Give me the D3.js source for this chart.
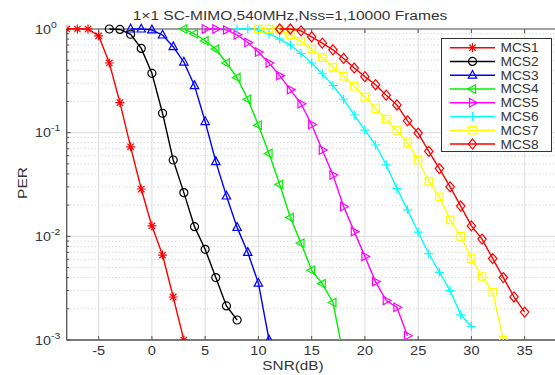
<!DOCTYPE html>
<html>
<head>
<meta charset="utf-8">
<script src="https://cdn.jsdelivr.net/npm/d3@7"></script>
<style>
  body { margin: 0; background: #fff; }
  svg text { font-family: "Liberation Sans", Arial, sans-serif; fill: #333; }
</style>
</head>
<body>
<svg id="chart" width="555" height="375"></svg>
<script>
// --- data ---
const names = ["MCS1", "MCS2", "MCS3", "MCS4", "MCS5", "MCS6", "MCS7", "MCS8"];
const colors = ["#ff0000", "#000000", "#0000ff", "#00f000", "#ff00ff", "#00ffff", "#ffff00", "#ff0000"];
const markers = ["star", "circle", "triUp", "triLeft", "triRight", "plus", "square", "diamond"];

const snr1 = [-8, -7, -6, -5, -4, -3, -2, -1, 0, 1, 2, 3];
const per1 = [1, 1, 1, 0.86, 0.47, 0.195, 0.073, 0.0286, 0.0126, 0.0066, 0.0026, 0.001];
const snr2 = [-4, -3, -2, -1, 0, 1, 2, 3, 4, 5, 6, 7, 8];
const per2 = [1, 0.99, 0.89, 0.65, 0.374, 0.154, 0.0545, 0.0264, 0.0124, 0.0075, 0.004, 0.00213, 0.00156];
const snr3 = [-2, -1, 0, 1, 2, 3, 4, 5, 6, 7, 8, 9, 10, 11];
const per3 = [1, 1, 0.98, 0.875, 0.675, 0.48, 0.284, 0.128, 0.0525, 0.0245, 0.0122, 0.007, 0.00353, 0.001];
const snr4 = [3, 4, 5, 6, 7, 8, 9, 10, 11, 12, 13, 14, 15, 16, 17, 18];
const per4 = [1, 0.9, 0.77, 0.64, 0.47, 0.34, 0.21, 0.118, 0.063, 0.0316, 0.0152, 0.0086, 0.0047, 0.0035, 0.0023, 0.0007];
const snr5 = [5, 6, 7, 8, 9, 10, 11, 12, 13, 14, 15, 16, 17, 18, 19, 20, 21, 22, 23, 24];
const per5 = [1, 1, 0.98, 0.88, 0.74, 0.6, 0.47, 0.355, 0.26, 0.19, 0.12, 0.068, 0.039, 0.0194, 0.0111, 0.0064, 0.00366, 0.0024, 0.00207, 0.0011];
const snr6 = [8, 9, 10, 11, 12, 13, 14, 15, 16, 17, 18, 19, 20, 21, 22, 23, 24, 25, 26, 27, 28, 29, 30];
const per6 = [1, 1, 0.98, 0.9, 0.8, 0.7, 0.58, 0.47, 0.37, 0.285, 0.21, 0.148, 0.106, 0.076, 0.049, 0.029, 0.018, 0.011, 0.0068, 0.0045, 0.003, 0.00175, 0.00135];
const snr7 = [10, 11, 12, 13, 14, 15, 16, 17, 18, 19, 20, 21, 22, 23, 24, 25, 26, 27, 28, 29, 30, 31, 32, 33];
const per7 = [1, 1, 0.98, 0.88, 0.76, 0.64, 0.53, 0.43, 0.35, 0.28, 0.22, 0.17, 0.135, 0.105, 0.08, 0.0545, 0.034, 0.024, 0.0144, 0.01, 0.0061, 0.0041, 0.0029, 0.001];
const snr8 = [12, 13, 14, 15, 16, 17, 18, 19, 20, 21, 22, 23, 24, 25, 26, 27, 28, 29, 30, 31, 32, 33, 34, 35];
const per8 = [1, 1, 0.96, 0.84, 0.73, 0.63, 0.52, 0.42, 0.347, 0.29, 0.23, 0.185, 0.13, 0.099, 0.066, 0.045, 0.03, 0.0196, 0.0126, 0.0094, 0.0061, 0.004, 0.0026, 0.00186];

const xTicks = [-5, 0, 5, 10, 15, 20, 25, 30, 35];
const yTicks = [1, 0.1, 0.01, 0.001];
const yTickExp = ["0", "-1", "-2", "-3"];

const snrs = [snr1, snr2, snr3, snr4, snr5, snr6, snr7, snr8];
const pers = [per1, per2, per3, per4, per5, per6, per7, per8];

// --- layout ---
const plotLeft = 66.7, plotTop = 29, plotBottom = 340;
const x = d3.scaleLinear().domain([-8, 40]).range([plotLeft, plotLeft + 48 * 10.65]);
const y = d3.scaleLog().domain([0.001, 1]).range([plotBottom, plotTop]);
const plotRight = x(40);

const svg = d3.select("#chart");

svg.append("defs").append("clipPath").attr("id", "plotclip")
  .append("rect").attr("x", plotLeft).attr("y", plotTop - 6)
  .attr("width", plotRight - plotLeft).attr("height", plotBottom - plotTop + 6);

// minor horizontal grid (dotted)
const minor = [];
[0.001, 0.01, 0.1].forEach(d => { for (let m = 2; m <= 9; m++) minor.push(d * m); });
svg.append("g").selectAll("line").data(minor).join("line")
  .attr("x1", plotLeft).attr("x2", plotRight)
  .attr("y1", d => y(d)).attr("y2", d => y(d))
  .attr("stroke", "#c8c8c8").attr("stroke-width", 1).attr("stroke-dasharray", "1,2.5");

// major grid
const grid = svg.append("g").attr("stroke", "#dcdcdc").attr("stroke-width", 1);
grid.selectAll(".gx").data(xTicks).join("line")
  .attr("x1", d => x(d)).attr("x2", d => x(d)).attr("y1", plotTop).attr("y2", plotBottom);
grid.selectAll(".gy").data(yTicks).join("line")
  .attr("x1", plotLeft).attr("x2", plotRight).attr("y1", d => y(d)).attr("y2", d => y(d));

// axes box + ticks
const axisColor = "#555";
const ax = svg.append("g").attr("stroke", axisColor).attr("stroke-width", 1);
ax.append("line").attr("x1", plotLeft).attr("x2", plotRight).attr("y1", plotBottom).attr("y2", plotBottom).attr("stroke-width", 1.3);
ax.append("line").attr("x1", plotLeft).attr("x2", plotLeft).attr("y1", plotTop).attr("y2", plotBottom).attr("stroke-width", 1.3);
ax.append("line").attr("x1", plotLeft).attr("x2", plotRight).attr("y1", plotTop).attr("y2", plotTop);
ax.selectAll(".tb").data(xTicks).join("line")
  .attr("x1", d => x(d)).attr("x2", d => x(d)).attr("y1", plotBottom).attr("y2", plotBottom - 4);
ax.selectAll(".tt").data(xTicks).join("line")
  .attr("x1", d => x(d)).attr("x2", d => x(d)).attr("y1", plotTop).attr("y2", plotTop + 4);
ax.selectAll(".ty").data(yTicks).join("line")
  .attr("x1", plotLeft).attr("x2", plotLeft + 4).attr("y1", d => y(d)).attr("y2", d => y(d));
ax.selectAll(".tm").data(minor).join("line")
  .attr("x1", plotLeft).attr("x2", plotLeft + 2.5).attr("y1", d => y(d)).attr("y2", d => y(d));

// tick labels
svg.append("g").selectAll("text").data(xTicks).join("text")
  .attr("transform", d => `translate(${x(d)},354.5) scale(1.12,1)`)
  .attr("text-anchor", "middle").attr("font-size", 13).text(d => d);

const yl = svg.append("g").selectAll("text").data(yTicks).join("text")
  .attr("transform", d => `translate(35,${y(d) + 4.5}) scale(1.1,1)`)
  .attr("font-size", 13);
yl.append("tspan").text("10");
yl.append("tspan").attr("dy", -6).attr("font-size", 9.5).text((d, i) => yTickExp[i]);

// title and axis labels
svg.append("text").attr("transform", "translate(290,20) scale(1.15,1)")
  .attr("text-anchor", "middle").attr("font-size", 13.5).attr("fill", "#222")
  .text("1×1 SC-MIMO,540MHz,Nss=1,10000 Frames");
svg.append("text").attr("transform", "translate(293,370) scale(1.18,1)")
  .attr("text-anchor", "middle").attr("font-size", 13).text("SNR(dB)");
svg.append("text").attr("transform", "translate(27,183) rotate(-90) scale(1.15,1)")
  .attr("text-anchor", "middle").attr("font-size", 13.5).text("PER");

// marker shapes
function markerPath(type) {
  switch (type) {
    case "star": return "M-4.5,0H4.5M0,-4.5V4.5M-3.2,-3.2L3.2,3.2M-3.2,3.2L3.2,-3.2";
    case "circle": return "M4,0A4,4 0 1,1 -4,0A4,4 0 1,1 4,0Z";
    case "triUp": return "M0,-4.8L4.2,3L-4.2,3Z";
    case "triLeft": return "M-4.8,0L3,-4.2L3,4.2Z";
    case "triRight": return "M4.8,0L-3,-4.2L-3,4.2Z";
    case "plus": return "M-4.5,0H4.5M0,-4.5V4.5";
    case "square": return "M-3.7,-3.7H3.7V3.7H-3.7Z";
    case "diamond": return "M0,-5L4.2,0L0,5L-4.2,0Z";
  }
}

const plot = svg.append("g").attr("clip-path", "url(#plotclip)");
const line = d3.line().x(d => x(d[0])).y(d => y(d[1]));

names.forEach((name, i) => {
  const pts = snrs[i].map((s, j) => [s, pers[i][j]]);
  const g = plot.append("g");
  g.append("path").datum(pts).attr("d", line)
    .attr("fill", "none").attr("stroke", colors[i]).attr("stroke-width", 1.4);
  g.selectAll("path.m").data(pts.filter(p => p[1] >= 0.001)).join("path").attr("class", "m")
    .attr("transform", d => `translate(${x(d[0])},${y(d[1])})`)
    .attr("d", markerPath(markers[i]))
    .attr("fill", "none").attr("stroke", colors[i]).attr("stroke-width", 1.2);
});

// legend
const lg = svg.append("g");
lg.append("rect").attr("x", 441.5).attr("y", 38.5).attr("width", 110).attr("height", 113)
  .attr("fill", "#fff").attr("stroke", "#333").attr("stroke-width", 1);
names.forEach((name, i) => {
  const yy = 47.7 + i * 13.76;
  lg.append("line").attr("x1", 450).attr("x2", 495).attr("y1", yy).attr("y2", yy)
    .attr("stroke", colors[i]).attr("stroke-width", 1.4);
  lg.append("path").attr("transform", `translate(472.5,${yy})`).attr("d", markerPath(markers[i]))
    .attr("fill", "none").attr("stroke", colors[i]).attr("stroke-width", 1.2);
  lg.append("text").attr("transform", `translate(500.5,${yy + 4.5}) scale(1.1,1)`)
    .attr("font-size", 12.5).attr("fill", "#222").text(name);
});
</script>
</body>
</html>
